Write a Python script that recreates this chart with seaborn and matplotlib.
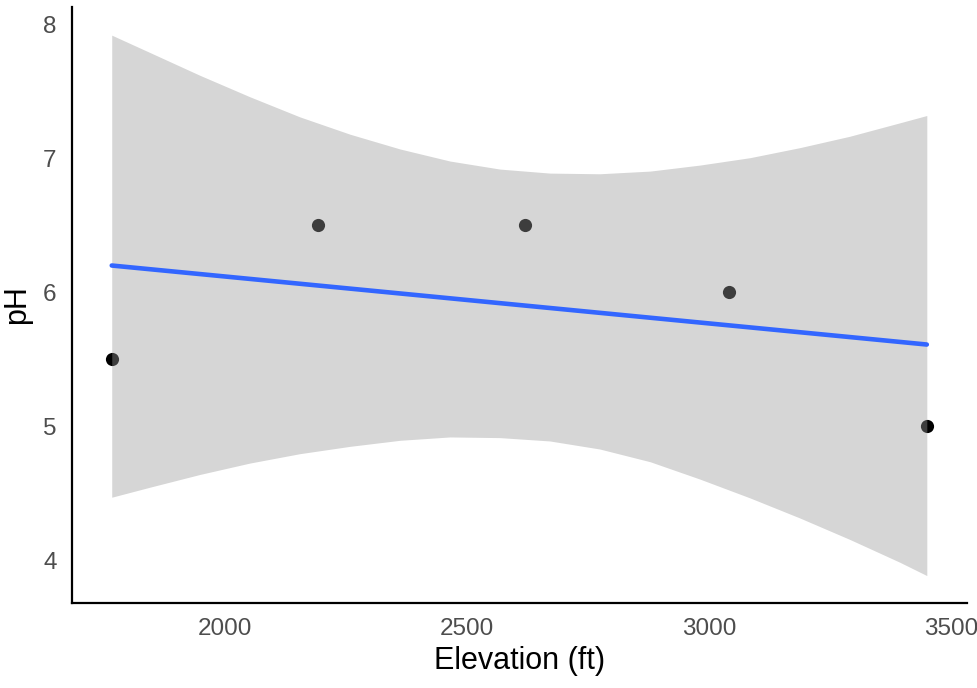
import matplotlib
matplotlib.use("Agg")
import matplotlib.pyplot as plt
import seaborn as sns
import pandas as pd

# observed samples
elevation = [1767, 2192, 2619, 3040, 3449]
ph = [5.5, 6.5, 6.5, 6.0, 5.0]

# linear smooth (end points) and its 95% band
fit_elev = [1767, 3449]
fit_ph = [6.20, 5.61]
band_elev = [1767, 1846, 1949, 2052, 2155, 2259, 2362, 2465, 2568,
             2671, 2774, 2878, 2981, 3084, 3187, 3290, 3393, 3449]
ci_upper = [7.92, 7.79, 7.62, 7.46, 7.31, 7.18, 7.07, 6.98, 6.92,
            6.89, 6.885, 6.905, 6.95, 7.005, 7.08, 7.165, 7.265, 7.32]
ci_lower = [4.47, 4.545, 4.64, 4.725, 4.795, 4.85, 4.895, 4.92, 4.915,
            4.89, 4.83, 4.735, 4.605, 4.465, 4.315, 4.155, 3.985, 3.885]

x_ticks = [2000, 2500, 3000, 3500]
y_ticks = [4, 5, 6, 7, 8]

points = pd.DataFrame({"elevation": elevation, "ph": ph})
smooth = pd.DataFrame({"elevation": fit_elev, "ph": fit_ph})
band = pd.DataFrame({"elevation": band_elev, "lo": ci_lower, "hi": ci_upper})

sns.set_style("white")
plt.rcParams["font.family"] = ["Liberation Sans", "DejaVu Sans"]

fig = plt.figure(figsize=(9.77, 6.88), dpi=100)
ax = fig.add_axes([0.0737, 0.1235, 0.9161, 0.8663])

# points sit under the ribbon, as in geom_point + geom_smooth
sns.scatterplot(data=points, x="elevation", y="ph", ax=ax, color="black",
                s=90, linewidth=0, zorder=2)
ax.fill_between(band["elevation"], band["lo"], band["hi"],
                color="#999999", alpha=0.4, linewidth=0, zorder=3)
sns.lineplot(data=smooth, x="elevation", y="ph", ax=ax, color="#3366FF",
             linewidth=3.3, zorder=4)

ax.set_xlim(1685, 3532)
ax.set_ylim(3.68, 8.13)
ax.set_xticks(x_ticks)
ax.set_yticks(y_ticks)

for side in ["top", "right"]:
    ax.spines[side].set_visible(False)
for side in ["left", "bottom"]:
    ax.spines[side].set_color("black")
    ax.spines[side].set_linewidth(1.6)

ax.tick_params(axis="both", direction="out", length=6, width=1.4,
               color="#333333", labelsize=17.5, labelcolor="#4D4D4D", pad=5)
ax.set_xlabel("Elevation (ft)", fontsize=22, color="black", labelpad=4)
ax.set_ylabel("pH", fontsize=22, color="black", labelpad=8)

fig.savefig("out.png", dpi=100)
